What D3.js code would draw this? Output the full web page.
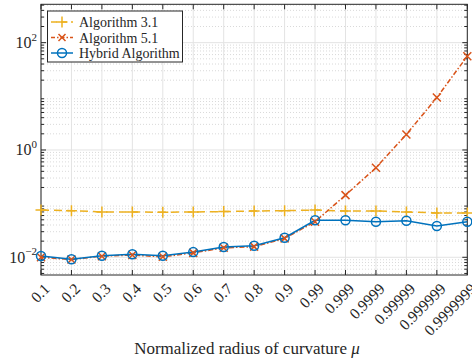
<!DOCTYPE html>
<html><head><meta charset="utf-8">
<script src="https://cdn.jsdelivr.net/npm/d3@7"></script>
<style>body{margin:0;background:#fff}svg{display:block}text{fill:#262626}</style>
</head><body><svg id="c" width="472" height="363" font-family="Liberation Serif, DejaVu Serif, serif"></svg>
<script>
const categories = ["0.1","0.2","0.3","0.4","0.5","0.6","0.7","0.8","0.9","0.99","0.999","0.9999","0.99999","0.999999","0.9999999"];
const alg31 = [0.076,0.074,0.070,0.070,0.069,0.070,0.071,0.073,0.074,0.076,0.073,0.073,0.070,0.067,0.067];
const alg51 = [0.0100,0.0091,0.0105,0.0110,0.0102,0.0121,0.0150,0.0158,0.0225,0.046,0.144,0.467,1.95,9.5,56];
const hybrid = [0.0106,0.0092,0.0107,0.0114,0.0107,0.0125,0.0155,0.0164,0.0232,0.0489,0.0489,0.046,0.048,0.0383,0.046];
const seriesNames = ["Algorithm 3.1","Algorithm 5.1","Hybrid Algorithm"];
const yTicks = [1e-2,1e0,1e2];
const yTickExp = ["\u22122","0","2"];

const svg = d3.select("#c");
const L=41,R=467.3,T=4.3,B=275;
const x = d3.scalePoint().domain(categories).range([L,R]);
const y = d3.scaleLog().domain([Math.pow(10,-2.33),Math.pow(10,2.715)]).range([B,T]);

// minor grid
const minors=[];
for(let e=-3;e<=2;e++) for(let m=2;m<=9;m++){const v=m*Math.pow(10,e); if(v>=y.domain()[0]&&v<=y.domain()[1]) minors.push(v);}
const g=svg.append("g");
g.selectAll(".mg").data(minors).enter().append("line")
 .attr("x1",L).attr("x2",R).attr("y1",d=>y(d)).attr("y2",d=>y(d))
 .attr("stroke","#cfcfcf").attr("stroke-width",0.8).attr("stroke-dasharray","1,2");
// major grid
g.selectAll(".xg").data(categories).enter().append("line")
 .attr("x1",d=>x(d)).attr("x2",d=>x(d)).attr("y1",T).attr("y2",B)
 .attr("stroke","#e3e3e3").attr("stroke-width",1);
g.selectAll(".yg").data(yTicks).enter().append("line")
 .attr("x1",L).attr("x2",R).attr("y1",d=>y(d)).attr("y2",d=>y(d))
 .attr("stroke","#e3e3e3").attr("stroke-width",1);

// frame
svg.append("rect").attr("x",L).attr("y",T).attr("width",R-L).attr("height",B-T)
 .attr("fill","none").attr("stroke","#262626").attr("stroke-width",1);
// ticks
const tk=svg.append("g").attr("stroke","#262626").attr("stroke-width",1);
categories.forEach(c=>{
  tk.append("line").attr("x1",x(c)).attr("x2",x(c)).attr("y1",B).attr("y2",B-5);
  tk.append("line").attr("x1",x(c)).attr("x2",x(c)).attr("y1",T).attr("y2",T+5);
});
yTicks.forEach(v=>{
  tk.append("line").attr("x1",L).attr("x2",L+5).attr("y1",y(v)).attr("y2",y(v));
  tk.append("line").attr("x1",R).attr("x2",R-5).attr("y1",y(v)).attr("y2",y(v));
});
minors.forEach(v=>{
  tk.append("line").attr("x1",L).attr("x2",L+3).attr("y1",y(v)).attr("y2",y(v));
  tk.append("line").attr("x1",R).attr("x2",R-3).attr("y1",y(v)).attr("y2",y(v));
});

// y tick labels
yTicks.forEach((v,i)=>{
  const t=svg.append("text").attr("x",37).attr("y",y(v)+5.5).attr("text-anchor","end").attr("font-size",16);
  t.append("tspan").text("10");
  t.append("tspan").attr("dy",-7.5).attr("font-size",11).text(yTickExp[i]);
});
// x tick labels
categories.forEach(c=>{
  svg.append("text").attr("transform",`translate(${x(c)+6},${B+11}) rotate(-45)`)
   .attr("text-anchor","end").attr("font-size",15.5).attr("dy","0.35em").text(c);
});
// axis title
const xt=svg.append("text").attr("x",247).attr("y",354).attr("text-anchor","middle").attr("font-size",17);
xt.append("tspan").text("Normalized radius of curvature ");
xt.append("tspan").attr("font-style","italic").text("\u03bc");

// lines
const line=d3.line().x((d,i)=>x(categories[i])).y(d=>y(d));
const cY="#EDB120",cO="#D95319",cB="#0072BD";
svg.append("path").datum(alg31).attr("d",line).attr("fill","none").attr("stroke",cY).attr("stroke-width",1.5).attr("stroke-dasharray","8,5");
svg.append("path").datum(alg51).attr("d",line).attr("fill","none").attr("stroke",cO).attr("stroke-width",1.5).attr("stroke-dasharray","5,2,1.5,2");
svg.append("path").datum(hybrid).attr("d",line).attr("fill","none").attr("stroke",cB).attr("stroke-width",1.5);

function plus(sel,cx,cy,s,col){sel.append("path").attr("d",`M${cx-s},${cy}H${cx+s}M${cx},${cy-s}V${cy+s}`).attr("stroke",col).attr("stroke-width",1.5).attr("fill","none");}
function cross(sel,cx,cy,s,col){sel.append("path").attr("d",`M${cx-s},${cy-s}L${cx+s},${cy+s}M${cx-s},${cy+s}L${cx+s},${cy-s}`).attr("stroke",col).attr("stroke-width",1.5).attr("fill","none");}
function circ(sel,cx,cy,r,col){sel.append("circle").attr("cx",cx).attr("cy",cy).attr("r",r).attr("stroke",col).attr("stroke-width",1.5).attr("fill","none");}
const mk=svg.append("g");
alg31.forEach((v,i)=>plus(mk,x(categories[i]),y(v),5.5,cY));
alg51.forEach((v,i)=>cross(mk,x(categories[i]),y(v),4,cO));
hybrid.forEach((v,i)=>circ(mk,x(categories[i]),y(v),4.5,cB));

// legend
const lg=svg.append("g");
lg.append("rect").attr("x",47.5).attr("y",11).attr("width",135).attr("height",51).attr("fill","#fff").attr("stroke","#262626").attr("stroke-width",1);
const cols=[cY,cO,cB], dash=["6,4","4,2,1.5,2",null];
seriesNames.forEach((n,i)=>{
  const yy=22+i*15.5;
  const l=lg.append("line").attr("x1",51).attr("x2",73).attr("y1",yy).attr("y2",yy).attr("stroke",cols[i]).attr("stroke-width",1.5);
  if(dash[i]) l.attr("stroke-dasharray",dash[i]);
  if(i===0) plus(lg,62,yy,5.5,cY); else if(i===1) cross(lg,62,yy,3.5,cO); else circ(lg,62,yy,4.5,cB);
  lg.append("text").attr("x",79).attr("y",yy+5).attr("font-size",14).text(n);
});
</script></body></html>
